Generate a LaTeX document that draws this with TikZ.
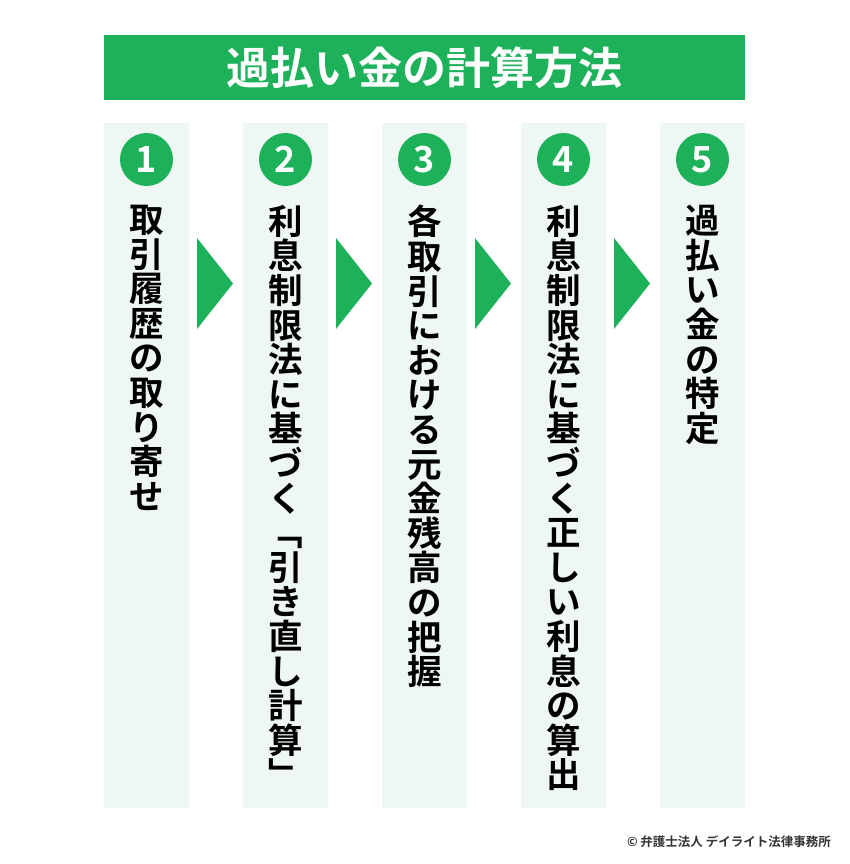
\documentclass[tikz,border=0pt]{standalone}
\usepackage{fontspec}
\newfontfamily\jp{Noto Sans CJK JP}[BoldFont={Noto Sans CJK JP Bold}]
\definecolor{grn}{HTML}{1DB15A}
\definecolor{mint}{HTML}{EEF7F3}
\definecolor{credit}{HTML}{333333}
\tikzset{
  panel/.style={fill=mint,draw=none},
  numcirc/.style={circle,fill=grn,draw=none,minimum size=53pt,inner sep=0pt,text=white,
    font=\jp\bfseries\fontsize{36}{36}\selectfont},
  vtext/.style={anchor=north,inner sep=0pt,align=center,text=black,
    font=\jp\bfseries\fontsize{34.5}{34.6}\selectfont},
  arrowtri/.style={fill=grn,draw=none},
  titlebar/.style={fill=grn,draw=none,minimum width=641pt,minimum height=65pt,inner sep=0pt,
    text=white,font=\jp\bfseries\fontsize{44}{44}\selectfont},
}
\begin{document}
\begin{tikzpicture}[x=1pt,y=-1pt]
\useasboundingbox (0,0) rectangle (850,864);
\node[titlebar] (title) at (424.5,67.5) {過払い金の計算方法};
% panels
\foreach \i/\x in {1/104,2/243,3/382,4/521,5/660}{
  \fill[panel] (\x,123) rectangle ++(85,685);
}
% arrows
\foreach \x in {197,336,475,614}{
  \fill[arrowtri] (\x,238) -- (\x+36,283.5) -- (\x,329) -- cycle;
}
% number circles
\node[numcirc] (n1) at (146.5,159.5) {1};
\node[numcirc] (n2) at (285.5,159.5) {2};
\node[numcirc] (n3) at (424.5,159.5) {3};
\node[numcirc] (n4) at (563.5,159.5) {4};
\node[numcirc] (n5) at (702.5,159.5) {5};
% vertical texts
\node[vtext] (t1) at (146.5,205) {取\\引\\履\\歴\\の\\取\\り\\寄\\せ};
\node[vtext] (t2) at (285.5,205) {利\\息\\制\\限\\法\\に\\基\\づ\\く\\﹁\\引\\き\\直\\し\\計\\算\\﹂};
\node[vtext] (t3) at (424.5,205) {各\\取\\引\\に\\お\\け\\る\\元\\金\\残\\高\\の\\把\\握};
\node[vtext] (t4) at (563.5,205) {利\\息\\制\\限\\法\\に\\基\\づ\\く\\正\\し\\い\\利\\息\\の\\算\\出};
\node[vtext] (t5) at (702.5,205) {過\\払\\い\\金\\の\\特\\定};
% credit
\node[anchor=east,inner sep=0pt,text=credit,font=\jp\bfseries\fontsize{12.5}{12.5}\selectfont] (credit) at (831,842) {© 弁護士法人 デイライト法律事務所};
\end{tikzpicture}
\end{document}
